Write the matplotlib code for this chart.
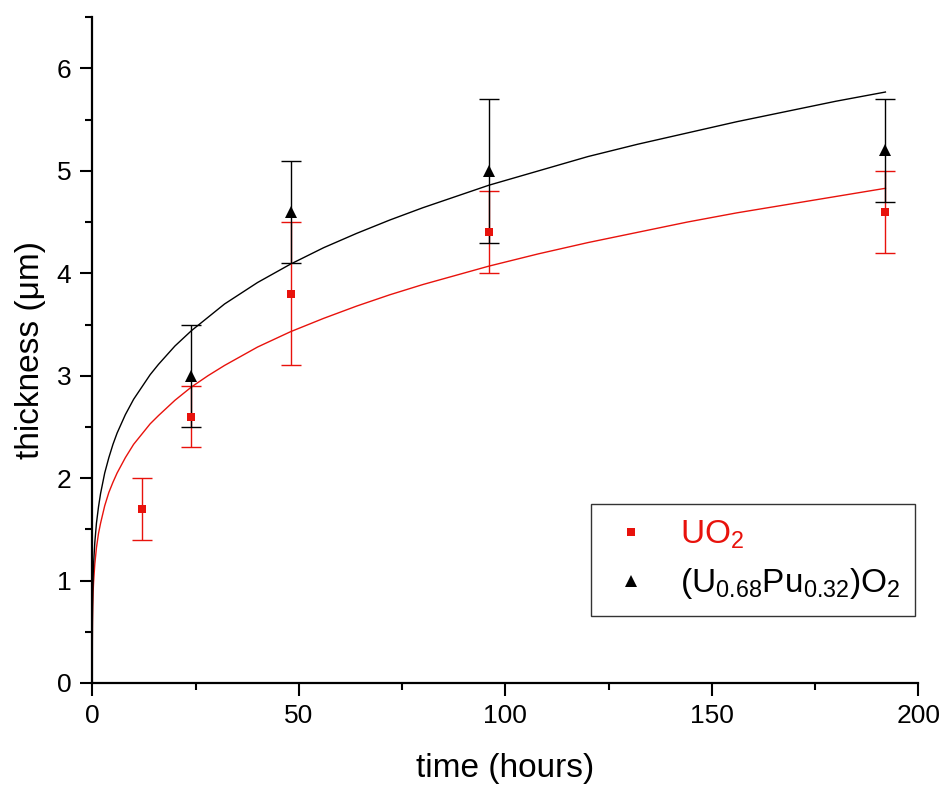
import matplotlib
matplotlib.use("Agg")
import matplotlib.pyplot as plt
from matplotlib.ticker import MultipleLocator

plt.rcParams['font.family'] = ['Liberation Sans', 'DejaVu Sans']
plt.rcParams['mathtext.fontset'] = 'custom'
plt.rcParams['mathtext.rm'] = 'Liberation Sans'
plt.rcParams['mathtext.it'] = 'Liberation Sans'

# measured layer thickness
uo2_t = [12, 24, 48, 96, 192]
uo2_y = [1.7, 2.6, 3.8, 4.4, 4.6]
uo2_err = [0.3, 0.3, 0.7, 0.4, 0.4]

mox_t = [24, 48, 96, 192]
mox_y = [3.0, 4.6, 5.0, 5.2]
mox_err = [0.5, 0.5, 0.7, 0.5]

# fit curves
fit_t = [0, 0.005, 0.02, 0.05, 0.1, 0.2, 0.3, 0.6, 1, 1.5, 2, 3, 4, 5, 6, 8, 10,
         12, 14, 16, 20, 24, 28, 32, 40, 48, 56, 64, 72, 80, 88, 96, 108, 120,
         132, 144, 156, 168, 180, 192]
uo2_fit = [0, 0.36, 0.50, 0.63, 0.75, 0.89, 0.98, 1.16, 1.32, 1.46, 1.56, 1.73,
           1.86, 1.96, 2.05, 2.20, 2.33, 2.43, 2.53, 2.61, 2.76, 2.89, 3.00,
           3.10, 3.28, 3.43, 3.56, 3.68, 3.79, 3.89, 3.98, 4.07, 4.19, 4.30,
           4.40, 4.50, 4.59, 4.67, 4.75, 4.83]
mox_fit = [0, 0.42, 0.59, 0.74, 0.88, 1.04, 1.16, 1.37, 1.56, 1.72, 1.85, 2.05,
           2.20, 2.33, 2.44, 2.62, 2.77, 2.89, 3.01, 3.11, 3.29, 3.44, 3.57,
           3.70, 3.91, 4.09, 4.25, 4.39, 4.52, 4.64, 4.75, 4.86, 5.00, 5.14,
           5.26, 5.37, 5.48, 5.58, 5.68, 5.77]

red = '#e8120c'

fig = plt.figure(figsize=(9.42, 7.85), dpi=100)
ax = fig.add_axes([0.098, 0.130, 0.877, 0.848])

ax.plot(fit_t, uo2_fit, color=red, lw=1.0, zorder=2)
ax.plot(fit_t, mox_fit, color='black', lw=1.0, zorder=2)

ax.errorbar(uo2_t, uo2_y, yerr=uo2_err, fmt='none', ecolor=red,
            elinewidth=1.0, capsize=7, capthick=1.0, zorder=3)
ax.errorbar(mox_t, mox_y, yerr=mox_err, fmt='none', ecolor='black',
            elinewidth=1.0, capsize=7, capthick=1.0, zorder=3)
h1, = ax.plot(uo2_t, uo2_y, 's', color=red, ms=6, mew=0, zorder=4,
              label=r'UO$_2$')
h2, = ax.plot(mox_t, mox_y, '^', color='black', ms=8, mew=0, zorder=4,
              label=r'(U$_{0.68}$Pu$_{0.32}$)O$_2$')

ax.set_xlim(0, 200)
ax.set_ylim(0, 6.5)
ax.xaxis.set_major_locator(MultipleLocator(50))
ax.xaxis.set_minor_locator(MultipleLocator(25))
ax.yaxis.set_major_locator(MultipleLocator(1))
ax.yaxis.set_minor_locator(MultipleLocator(0.5))

for s in ['top', 'right']:
    ax.spines[s].set_visible(False)
for s in ['left', 'bottom']:
    ax.spines[s].set_linewidth(1.6)

ax.tick_params(which='major', direction='out', length=9, width=1.5, labelsize=19, pad=6)
ax.tick_params(which='minor', direction='out', length=5, width=1.5)

ax.set_xlabel('time (hours)', fontsize=24, labelpad=18)
ax.set_ylabel('thickness (\u03bcm)', fontsize=24, labelpad=8)

leg = ax.legend(handles=[h1, h2], loc='lower right',
                bbox_to_anchor=(0.996, 0.1), fontsize=24,
                frameon=True, fancybox=False, edgecolor='black',
                handletextpad=0.7, borderpad=0.45, labelspacing=0.45,
                handlelength=1.5, borderaxespad=0)
leg.get_frame().set_linewidth(1.0)
leg.get_texts()[0].set_color(red)

fig.savefig('out.png', dpi=100)
